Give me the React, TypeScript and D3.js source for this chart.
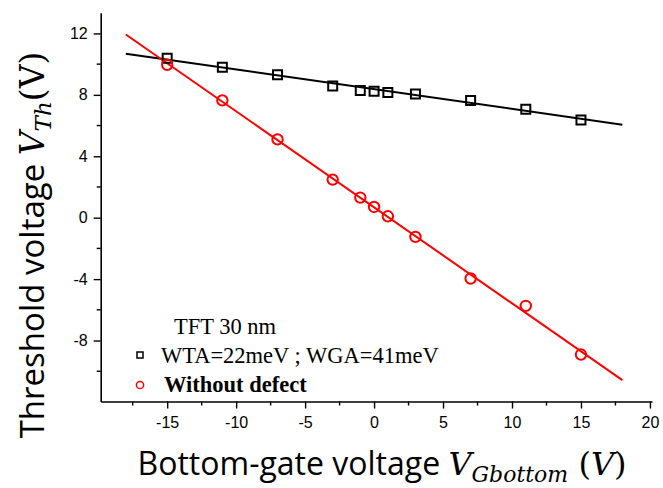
import React, { useEffect, useRef } from 'react';
import { select, scaleLinear, axisBottom, axisLeft, range, line, symbol, symbolSquare } from 'd3';

// gate voltage sweep (V)
const vGate = [-15, -11, -7, -3, -1, 0, 1, 3, 7, 11, 15];
// threshold voltage, WTA=22meV ; WGA=41meV
const vthDefect = [10.39, 9.8, 9.31, 8.57, 8.29, 8.24, 8.16, 8.05, 7.64, 7.07, 6.36];
// threshold voltage, without defect
const vthClean = [9.96, 7.64, 5.1, 2.48, 1.31, 0.7, 0.09, -1.25, -3.96, -5.74, -8.91];
// linear fits, end points
const fitX = [-18, 18];
const fitDefect = [10.68, 6.06];
const fitClean = [11.93, -10.58];

const xTicks = [-15, -10, -5, 0, 5, 10, 15, 20];
const yTicks = [-8, -4, 0, 4, 8, 12];

const W = 663;
const H = 488;

function App() {
	const svgRef = useRef(null);

	useEffect(() => {
		const svg = select(svgRef.current);
		svg.selectAll('*').remove();

		const x = scaleLinear().domain([-19.82, 20.15]).range([100.7, 652]);
		const y = scaleLinear().domain([-11.97, 13.35]).range([401.5, 12.7]);

		// axes (plain hyphen for negatives, like the original)
		const xAxis = axisBottom(x).tickValues(xTicks).tickFormat(d => String(d)).tickSize(7).tickSizeOuter(0).tickPadding(8);
		const gx = svg.append('g').attr('transform', `translate(0,${y(-11.97)})`).call(xAxis);
		const yAxis = axisLeft(y).tickValues(yTicks).tickFormat(d => String(d)).tickSize(7).tickSizeOuter(0).tickPadding(6);
		const gy = svg.append('g').attr('transform', `translate(${x(-19.82)},0)`).call(yAxis);

		[gx, gy].forEach(g => {
			g.select('.domain').attr('stroke', '#000').attr('stroke-width', 1.6);
			g.selectAll('.tick line').attr('stroke', '#000').attr('stroke-width', 1.4);
			g.selectAll('.tick text')
				.attr('fill', '#000')
				.style('font-family', '"Liberation Sans", Arial, sans-serif')
				.style('font-size', '16px');
		});

		// minor ticks
		svg.append('g').selectAll('line')
			.data(range(-17.5, 20, 5))
			.join('line')
			.attr('x1', d => x(d)).attr('x2', d => x(d))
			.attr('y1', y(-11.97)).attr('y2', y(-11.97) + 4)
			.attr('stroke', '#000').attr('stroke-width', 1.4);
		svg.append('g').selectAll('line')
			.data([-10, -6, -2, 2, 6, 10])
			.join('line')
			.attr('y1', d => y(d)).attr('y2', d => y(d))
			.attr('x1', x(-19.82)).attr('x2', x(-19.82) - 4)
			.attr('stroke', '#000').attr('stroke-width', 1.4);

		// fit lines
		const fitLine = line<number>().x((d, i) => x(fitX[i])).y(d => y(d));
		svg.append('path').attr('d', fitLine(fitDefect)).attr('fill', 'none').attr('stroke', '#000').attr('stroke-width', 2);
		svg.append('path').attr('d', fitLine(fitClean)).attr('fill', 'none').attr('stroke', '#ff0000').attr('stroke-width', 2);

		// markers
		svg.append('g').selectAll('path')
			.data(vthDefect)
			.join('path')
			.attr('d', symbol(symbolSquare, 81)())
			.attr('transform', (d, i) => `translate(${x(vGate[i])},${y(d)})`)
			.attr('fill', 'none').attr('stroke', '#000').attr('stroke-width', 2);
		svg.append('g').selectAll('circle')
			.data(vthClean)
			.join('circle')
			.attr('cx', (d, i) => x(vGate[i]))
			.attr('cy', d => y(d))
			.attr('r', 5.2)
			.attr('fill', 'none').attr('stroke', '#ff0000').attr('stroke-width', 2);

		// legend
		const serif = '"Liberation Serif", "Times New Roman", serif';
		const lg = svg.append('g').style('font-family', serif).style('font-size', '22.5px').attr('fill', '#000');
		lg.append('text').attr('x', 174).attr('y', 334).text('TFT 30 nm');
		lg.append('path').attr('d', symbol(symbolSquare, 36)())
			.attr('transform', 'translate(140,355)')
			.attr('fill', 'none').attr('stroke', '#000').attr('stroke-width', 1.5);
		lg.append('text').attr('x', 161).attr('y', 362.5).text('WTA=22meV ; WGA=41meV');
		lg.append('circle').attr('cx', 140).attr('cy', 385).attr('r', 3.6)
			.attr('fill', 'none').attr('stroke', '#ff0000').attr('stroke-width', 1.5);
		lg.append('text').attr('x', 164).attr('y', 392).style('font-weight', 'bold').text('Without defect');

		// axis titles
		const sans = '"Open Sans", "Noto Sans", sans-serif';
		const math = '"DejaVu Serif", "Liberation Serif", serif';
		const xt = svg.append('text').attr('x', 382).attr('y', 475).attr('text-anchor', 'middle')
			.style('font-family', sans).style('font-size', '32px').attr('fill', '#000');
		xt.append('tspan').text('Bottom-gate voltage ');
		xt.append('tspan').style('font-family', math).style('font-style', 'italic').text('V');
		xt.append('tspan').style('font-family', math).style('font-style', 'italic').style('font-size', '22px').attr('dy', 7).text('Gbottom');
		xt.append('tspan').style('font-family', math).attr('dy', -7).text(' (');
		xt.append('tspan').style('font-family', math).style('font-style', 'italic').text('V');
		xt.append('tspan').style('font-family', math).text(')');

		const yt = svg.append('text').attr('transform', 'translate(44,245) rotate(-90)').attr('text-anchor', 'middle')
			.style('font-family', sans).style('font-size', '33px').attr('fill', '#000');
		yt.append('tspan').text('Threshold voltage ');
		yt.append('tspan').style('font-family', math).style('font-style', 'italic').text('V');
		yt.append('tspan').style('font-family', math).style('font-style', 'italic').style('font-size', '23px').attr('dy', 7).text('Th');
		yt.append('tspan').style('font-family', math).attr('dy', -7).text('(V)');
	}, []);

	return (
		<svg ref={svgRef} width={W} height={H} style={{ position: 'absolute', left: 0, top: 0, background: '#fff' }} />
	);
}

export default App;
